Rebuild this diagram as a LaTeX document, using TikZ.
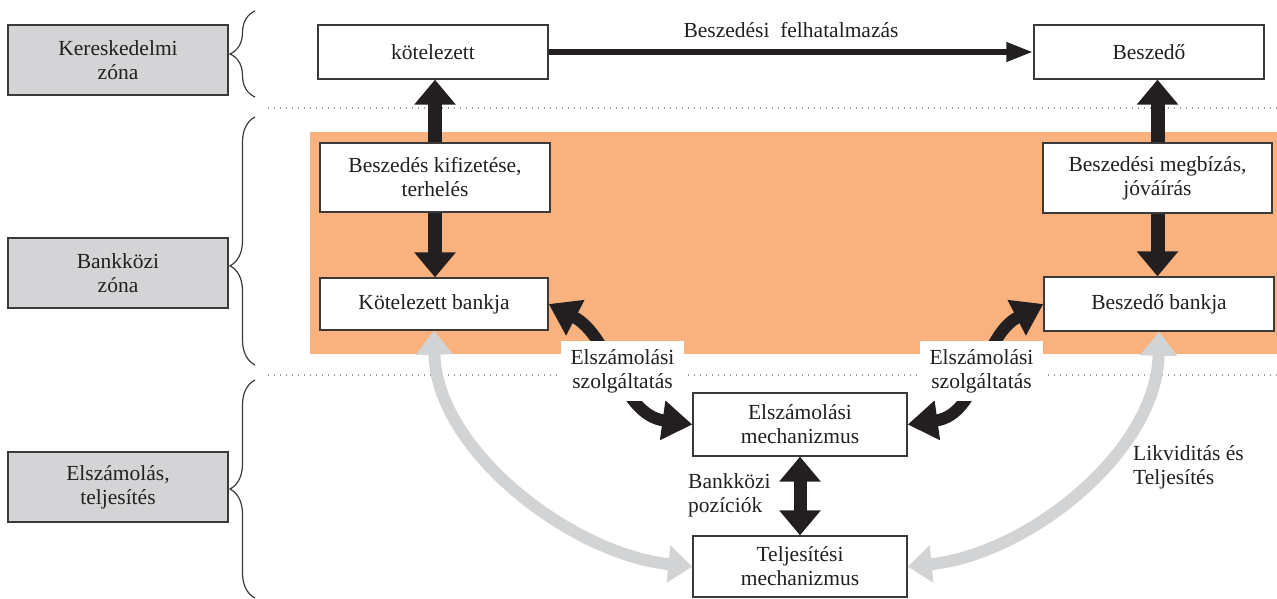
\documentclass[tikz,border=0pt]{standalone}
\usepackage{fontspec}
\setmainfont{Liberation Serif}
\usetikzlibrary{arrows.meta,decorations.pathreplacing}
\definecolor{boxborder}{HTML}{3A3A3A}
\definecolor{zonefill}{HTML}{D4D4D6}
\definecolor{orangefill}{HTML}{F9B27E}
\definecolor{arrowblack}{HTML}{231F20}
\definecolor{grayarrow}{HTML}{D1D3D4}
\definecolor{dotgray}{HTML}{9A9A9A}
\definecolor{txt}{HTML}{231F20}
\begin{document}
\begin{tikzpicture}[x=1pt,y=-1pt,
  font=\fontsize{21.5}{24}\selectfont,
  box/.style={draw=boxborder, line width=1.3pt, fill=white, align=center, inner sep=0pt, text=txt},
  zone/.style={box, fill=zonefill, minimum width=220pt, minimum height=70pt},
  lbl/.style={text=txt, inner sep=0pt},
  blk/.style={draw=arrowblack, line width=14pt, -{Triangle[width=40pt,length=25pt]}},
  blkboth/.style={draw=arrowblack, line width=13pt, {Triangle[width=40pt,length=25pt]}-{Triangle[width=40pt,length=25pt]}},
  topar/.style={draw=arrowblack, line width=6.5pt, -{Triangle[width=18pt,length=27pt]}},
  curv/.style={draw=arrowblack, line width=12pt, {Triangle[width=38pt,length=30pt]}-{Triangle[width=38pt,length=30pt]}},
  gry/.style={draw=grayarrow, line width=12pt, {Triangle[width=36pt,length=24pt]}-{Triangle[width=36pt,length=24pt]}},
  dotline/.style={draw=dotgray, line width=1.4pt, dash pattern=on 1.4pt off 4.6pt},
  bracestyle/.style={draw=boxborder, line width=1.2pt, decorate, decoration={brace, amplitude=25pt}},
  servlbl/.style={fill=white, text=txt, align=center, inner sep=0pt, minimum width=123pt, minimum height=60pt}
]
\useasboundingbox (0,0) rectangle (1277,599);

% background zone
\fill[orangefill] (310,132) rectangle (1277,354);

% dotted separators
\draw[dotline] (268,108) -- (1277,108);
\draw[dotline] (268,375) -- (1277,375);

% braces
\draw[bracestyle] (255,97) -- (255,11);
\draw[bracestyle, decoration={brace, amplitude=25pt, aspect=0.4}] (255,365) -- (255,117);
\draw[bracestyle] (255,598) -- (255,380);

% zone labels
\node[zone] (z1) at (118,60) {Kereskedelmi\\zóna};
\node[zone] (z2) at (118,273) {Bankközi\\zóna};
\node[zone] (z3) at (118,487) {Elszámolás,\\teljesítés};

% boxes
\node[box, minimum width=230pt, minimum height=54pt] (k) at (433,52) {kötelezett};
\node[box, minimum width=230pt, minimum height=54pt] (b) at (1149,52) {Beszedő};
\node[box, minimum width=230pt, minimum height=69pt] (bk) at (435,177.5) {Beszedés kifizetése,\\terhelés};
\node[box, minimum width=229pt, minimum height=70pt] (bm) at (1157.5,178) {Beszedési megbízás,\\jóváírás};
\node[box, minimum width=228pt, minimum height=52pt] (kb) at (434,304) {Kötelezett bankja};
\node[box, minimum width=230pt, minimum height=54pt] (bb) at (1159,304) {Beszedő bankja};
\node[box, minimum width=214pt, minimum height=63pt] (em) at (800,424.5) {Elszámolási\\mechanizmus};
\node[box, minimum width=214pt, minimum height=61pt] (tm) at (800,566.5) {Teljesítési\\mechanizmus};

% gray liquidity arrows
\draw[gry] (kb.south) .. controls +(2,120) and +(-120,-12) .. (tm.west);
\draw[gry] (bb.south) .. controls +(-2,120) and +(120,-12) .. (tm.east);

% black arrows
\draw[topar] (k.east) -- node[lbl, above=11pt] (felh) {Beszedési\hspace{0.5em}felhatalmazás} (b.west);
\draw[blk] (bk.north) -- (bk.north |- k.south);
\draw[blk] (bk.south) -- (bk.south |- kb.north);
\draw[blk] (bm.north) -- (bm.north |- b.south);
\draw[blk] (bm.south) -- (bm.south |- bb.north);
\draw[blkboth] (em.south) -- (tm.north);
\draw[curv] (kb.east) .. controls +(62,32) and +(-72,-10) .. (em.west);
\draw[curv] (bb.west) .. controls +(-62,32) and +(72,-10) .. (em.east);

% labels
\node[servlbl] (s1) at (622.5,371) {Elszámolási\\szolgáltatás};
\node[servlbl] (s2) at (981.5,371) {Elszámolási\\szolgáltatás};
\node[lbl, align=left, anchor=north west] (bp) at (688,473) {Bankközi\\pozíciók};
\node[lbl, align=left, anchor=north west] (lt) at (1133,445) {Likviditás és\\Teljesítés};
\end{tikzpicture}
\end{document}
